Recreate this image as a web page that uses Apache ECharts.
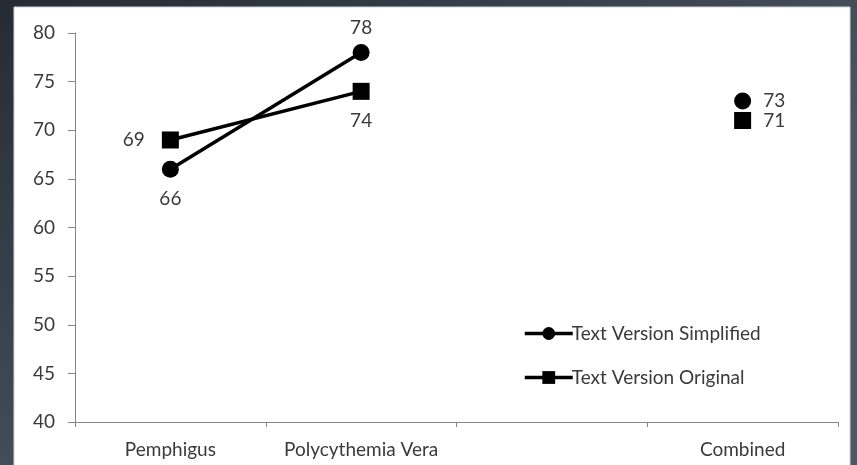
<!DOCTYPE html>
<html>
<head>
<meta charset="utf-8">
<script src="https://cdn.jsdelivr.net/npm/echarts@6/dist/echarts.min.js"></script>
<style>
html,body{margin:0;padding:0;width:857px;height:465px;overflow:hidden;background:#2a313a;}
#c{width:857px;height:465px;}
</style>
</head>
<body>
<div id="c"></div>
<script>
const categories = ['Pemphigus', 'Polycythemia Vera', '', 'Combined'];
const simplified = [66, 78, null, 73];
const original = [69, 74, null, 71];
const yTicks = {min: 40, max: 80, interval: 5};

const FONT = 'Lato, "Open Sans", sans-serif';
const TXT = '#3a3a3a';

const chart = echarts.init(document.getElementById('c'));

const simplifiedLabelPos = ['bottom', 'top', 'right', 'right'];
const originalLabelPos = ['left', 'bottom', 'right', 'right'];

function dist(p, i) {
  if (p === 'right') return 12;
  if (p === 'left') return 17;
  if (p === 'top') return 7;
  return 12;
}
function mkData(vals, pos) {
  return vals.map((v, i) => ({
    value: v,
    label: {position: pos[i], distance: dist(pos[i], i)}
  }));
}

chart.setOption({
  animation: false,
  backgroundColor: new echarts.graphic.LinearGradient(0, 0, 0.3, 1, [
    {offset: 0, color: '#252b34'},
    {offset: 1, color: '#4b5763'}
  ]),
  graphic: [{
    type: 'rect', z: -10,
    shape: {x: 14, y: 7, width: 836, height: 470},
    style: {fill: '#ffffff', stroke: '#cfd3d8', lineWidth: 1}
  }],
  grid: {left: 75, right: 19, top: 33, bottom: 43, containLabel: false},
  legend: {
    orient: 'vertical',
    left: 518, top: 319,
    itemWidth: 48, itemHeight: 16, itemGap: 25,
    lineStyle: {width: 3.5},
    textStyle: {fontFamily: FONT, fontSize: 19, color: TXT, padding: [0, 0, 0, -6]},
    data: ['Text Version Simplified', 'Text Version Original']
  },
  xAxis: {
    type: 'category',
    data: categories,
    boundaryGap: true,
    axisLine: {lineStyle: {color: '#868686', width: 1}},
    axisTick: {show: true, length: 5, inside: false, lineStyle: {color: '#868686'}},
    axisLabel: {fontFamily: FONT, fontSize: 19, color: TXT, margin: 18, interval: 0}
  },
  yAxis: {
    type: 'value',
    min: yTicks.min, max: yTicks.max, interval: yTicks.interval,
    axisLine: {show: true, lineStyle: {color: '#868686', width: 1}},
    axisTick: {show: true, length: 7, lineStyle: {color: '#868686'}},
    splitLine: {show: false},
    axisLabel: {fontFamily: FONT, fontSize: 19, color: TXT, margin: 20}
  },
  series: [
    {
      name: 'Text Version Simplified',
      type: 'line',
      data: mkData(simplified, simplifiedLabelPos),
      connectNulls: false,
      symbol: 'circle', symbolSize: 17,
      lineStyle: {color: '#000', width: 3.5},
      itemStyle: {color: '#000'},
      label: {show: true, fontFamily: FONT, fontSize: 19, color: TXT}
    },
    {
      name: 'Text Version Original',
      type: 'line',
      data: mkData(original, originalLabelPos),
      connectNulls: false,
      symbol: 'rect', symbolSize: 17,
      lineStyle: {color: '#000', width: 3.5},
      itemStyle: {color: '#000'},
      label: {show: true, fontFamily: FONT, fontSize: 19, color: TXT}
    }
  ]
});
</script>
</body>
</html>
